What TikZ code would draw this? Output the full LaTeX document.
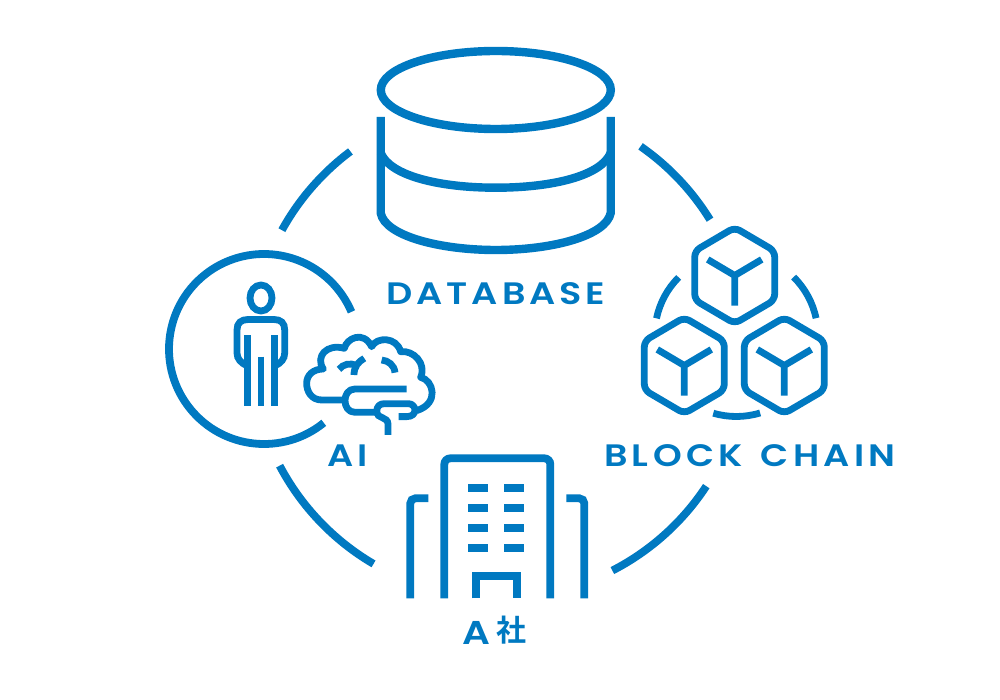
\documentclass[tikz,border=0pt]{standalone}
\usepackage{fontspec}
\setmainfont{Poppins}
\newfontfamily\lblfont[LetterSpace=12.5,FakeStretch=1.18]{Poppins SemiBold}
\newfontfamily\lblwide[LetterSpace=14,FakeStretch=1.18]{Poppins SemiBold}
\newfontfamily\cjkfont{Noto Sans CJK JP Bold}
\definecolor{brandblue}{HTML}{0079C1}
\tikzset{
  icon/.style={draw=brandblue,line width=7.8pt,fill=none},
  dbline/.style={draw=brandblue,line width=8.4pt,fill=none},
  thin icon/.style={draw=brandblue,line width=6.8pt,fill=none},
  window/.style={fill=brandblue,draw=none},
  lbl/.style={text=brandblue,inner sep=0pt,anchor=base},
}
\newcommand{\hexcube}[2]{%
  \begin{scope}[shift={(#1,#2)}]
    \draw[thin icon,rounded corners=6pt] (0,-48)--(40,-24.5)--(40,24.5)--(0,48)--(-40,24.5)--(-40,-24.5)--cycle;
    \draw[thin icon] (-27,-16)--(0,0)--(27,-16) (0,0)--(0,30);
  \end{scope}}
\begin{document}
\begin{tikzpicture}[x=1pt,y=-1pt]
\useasboundingbox (0,0) rectangle (1000,700);
\fill[white] (0,0) rectangle (1000,700);
% main ring
\coordinate (ring) at (499,350);
\foreach \a/\b in {-55.2/-31.7,33.3/62.8,120.4/152.2,208.9/233.2}
  \draw[icon] (ring) ++(\a:248) arc[start angle=\a,end angle=\b,radius=248];
% database
\draw[dbline] (495.8,90) ellipse [x radius=115,y radius=39];
\draw[dbline] (380.7,117) -- (380.7,213) .. controls (385,236) and (440,250) .. (495.8,250) .. controls (552,250) and (606,236) .. (610.7,213) -- (610.7,117);
\draw[dbline] (380.7,153) .. controls (390,176) and (440,187.7) .. (495.8,187.7) .. controls (552,187.7) and (601,176) .. (610.7,153);
\node[lbl] (database) at (496,304.5) {\fontsize{31}{31}\lblfont DATABASE};
% AI circle
\draw[icon] (264,349) ++(51:95) arc[start angle=51,end angle=337,radius=95];
% person
\draw[thin icon] (261,298) ellipse [x radius=11,y radius=13];
\draw[thin icon] (247.3,366) .. controls (241,363) and (237,359) .. (237,353) -- (237,330) .. controls (237,323) and (241,319.5) .. (248,319.5) -- (274,319.5) .. controls (281,319.5) and (284.7,323) .. (284.7,330) -- (284.7,353) .. controls (284.7,359) and (281,363) .. (274.7,366);
\draw[thin icon] (247.3,335)--(247.3,406) (274.7,335)--(274.7,406) (261,356.7)--(261,406);
% brain
\begin{scope}[shift={(150,240)},x=0.3333pt,y=-0.3333pt]
\draw[thin icon,line join=round] (585,480) -- (515,480)
  .. controls (485,480) and (470,455) .. (470,430)
  .. controls (470,405) and (490,387) .. (520,387)
  .. controls (495,350) and (530,310) .. (583,325)
  .. controls (590,295) and (640,270) .. (665,320)
  .. controls (680,290) and (740,290) .. (752,335)
  .. controls (790,330) and (830,370) .. (812,412)
  .. controls (850,420) and (870,490) .. (800,512);
\draw[thin icon,line join=round] (770,447) -- (615,447)
  .. controls (575,447) and (575,517) .. (615,517) -- (680,517)
  .. controls (680,497) and (690,491) .. (705,491) -- (775,491)
  .. controls (800,491) and (805,530) .. (770,530) -- (746,530);
\draw[thin icon] (680,517) .. controls (680,535) and (714,530) .. (714,552) -- (714,585);
\draw[thin icon] (567,388) .. controls (580,372) and (600,368) .. (620,376);
\draw[thin icon] (643,355) .. controls (625,365) and (612,380) .. (612,405);
\draw[thin icon] (695,360) .. controls (715,362) and (733,375) .. (735,398);
\end{scope}
\node[lbl] (ai) at (348,466) {\fontsize{31}{31}\lblfont AI};
% cubes
\hexcube{734.7}{275.5}
\hexcube{684.3}{365.5}
\hexcube{784.3}{365.5}
\coordinate (cubering) at (736.3,335);
\foreach \a/\b in {-45.3/-11.9,73/106.4,191.8/225}
  \draw[thin icon] (cubering) ++(\a:81.5) arc[start angle=\a,end angle=\b,radius=81.5];
\node[lbl] (block) at (750,466) {\fontsize{31}{31}\lblwide BLOCK\hspace{5pt} CHAIN};
% building
\begin{scope}[shift={(390,445)},x=0.3333pt,y=-0.3333pt]
\draw[icon,rounded corners=6pt] (163,460) -- (163,40) -- (481,40) -- (481,460);
\draw[icon,rounded corners=5pt] (115,160) -- (61,160) -- (61,460);
\draw[icon,rounded corners=5pt] (529,160) -- (583,160) -- (583,460);
\foreach \y in {118,178,238,298} {
  \fill[window] (235,\y) rectangle (295,\y+24);
  \fill[window] (343,\y) rectangle (403,\y+24);
}
\draw[icon] (259,460) -- (259,393) -- (380,393) -- (380,460);
\end{scope}
\node[lbl] (asha) at (476,644) {\fontsize{33}{33}\lblfont A};
\node[lbl] (sha) at (511,641) {\fontsize{30}{30}\cjkfont 社};
\end{tikzpicture}
\end{document}
